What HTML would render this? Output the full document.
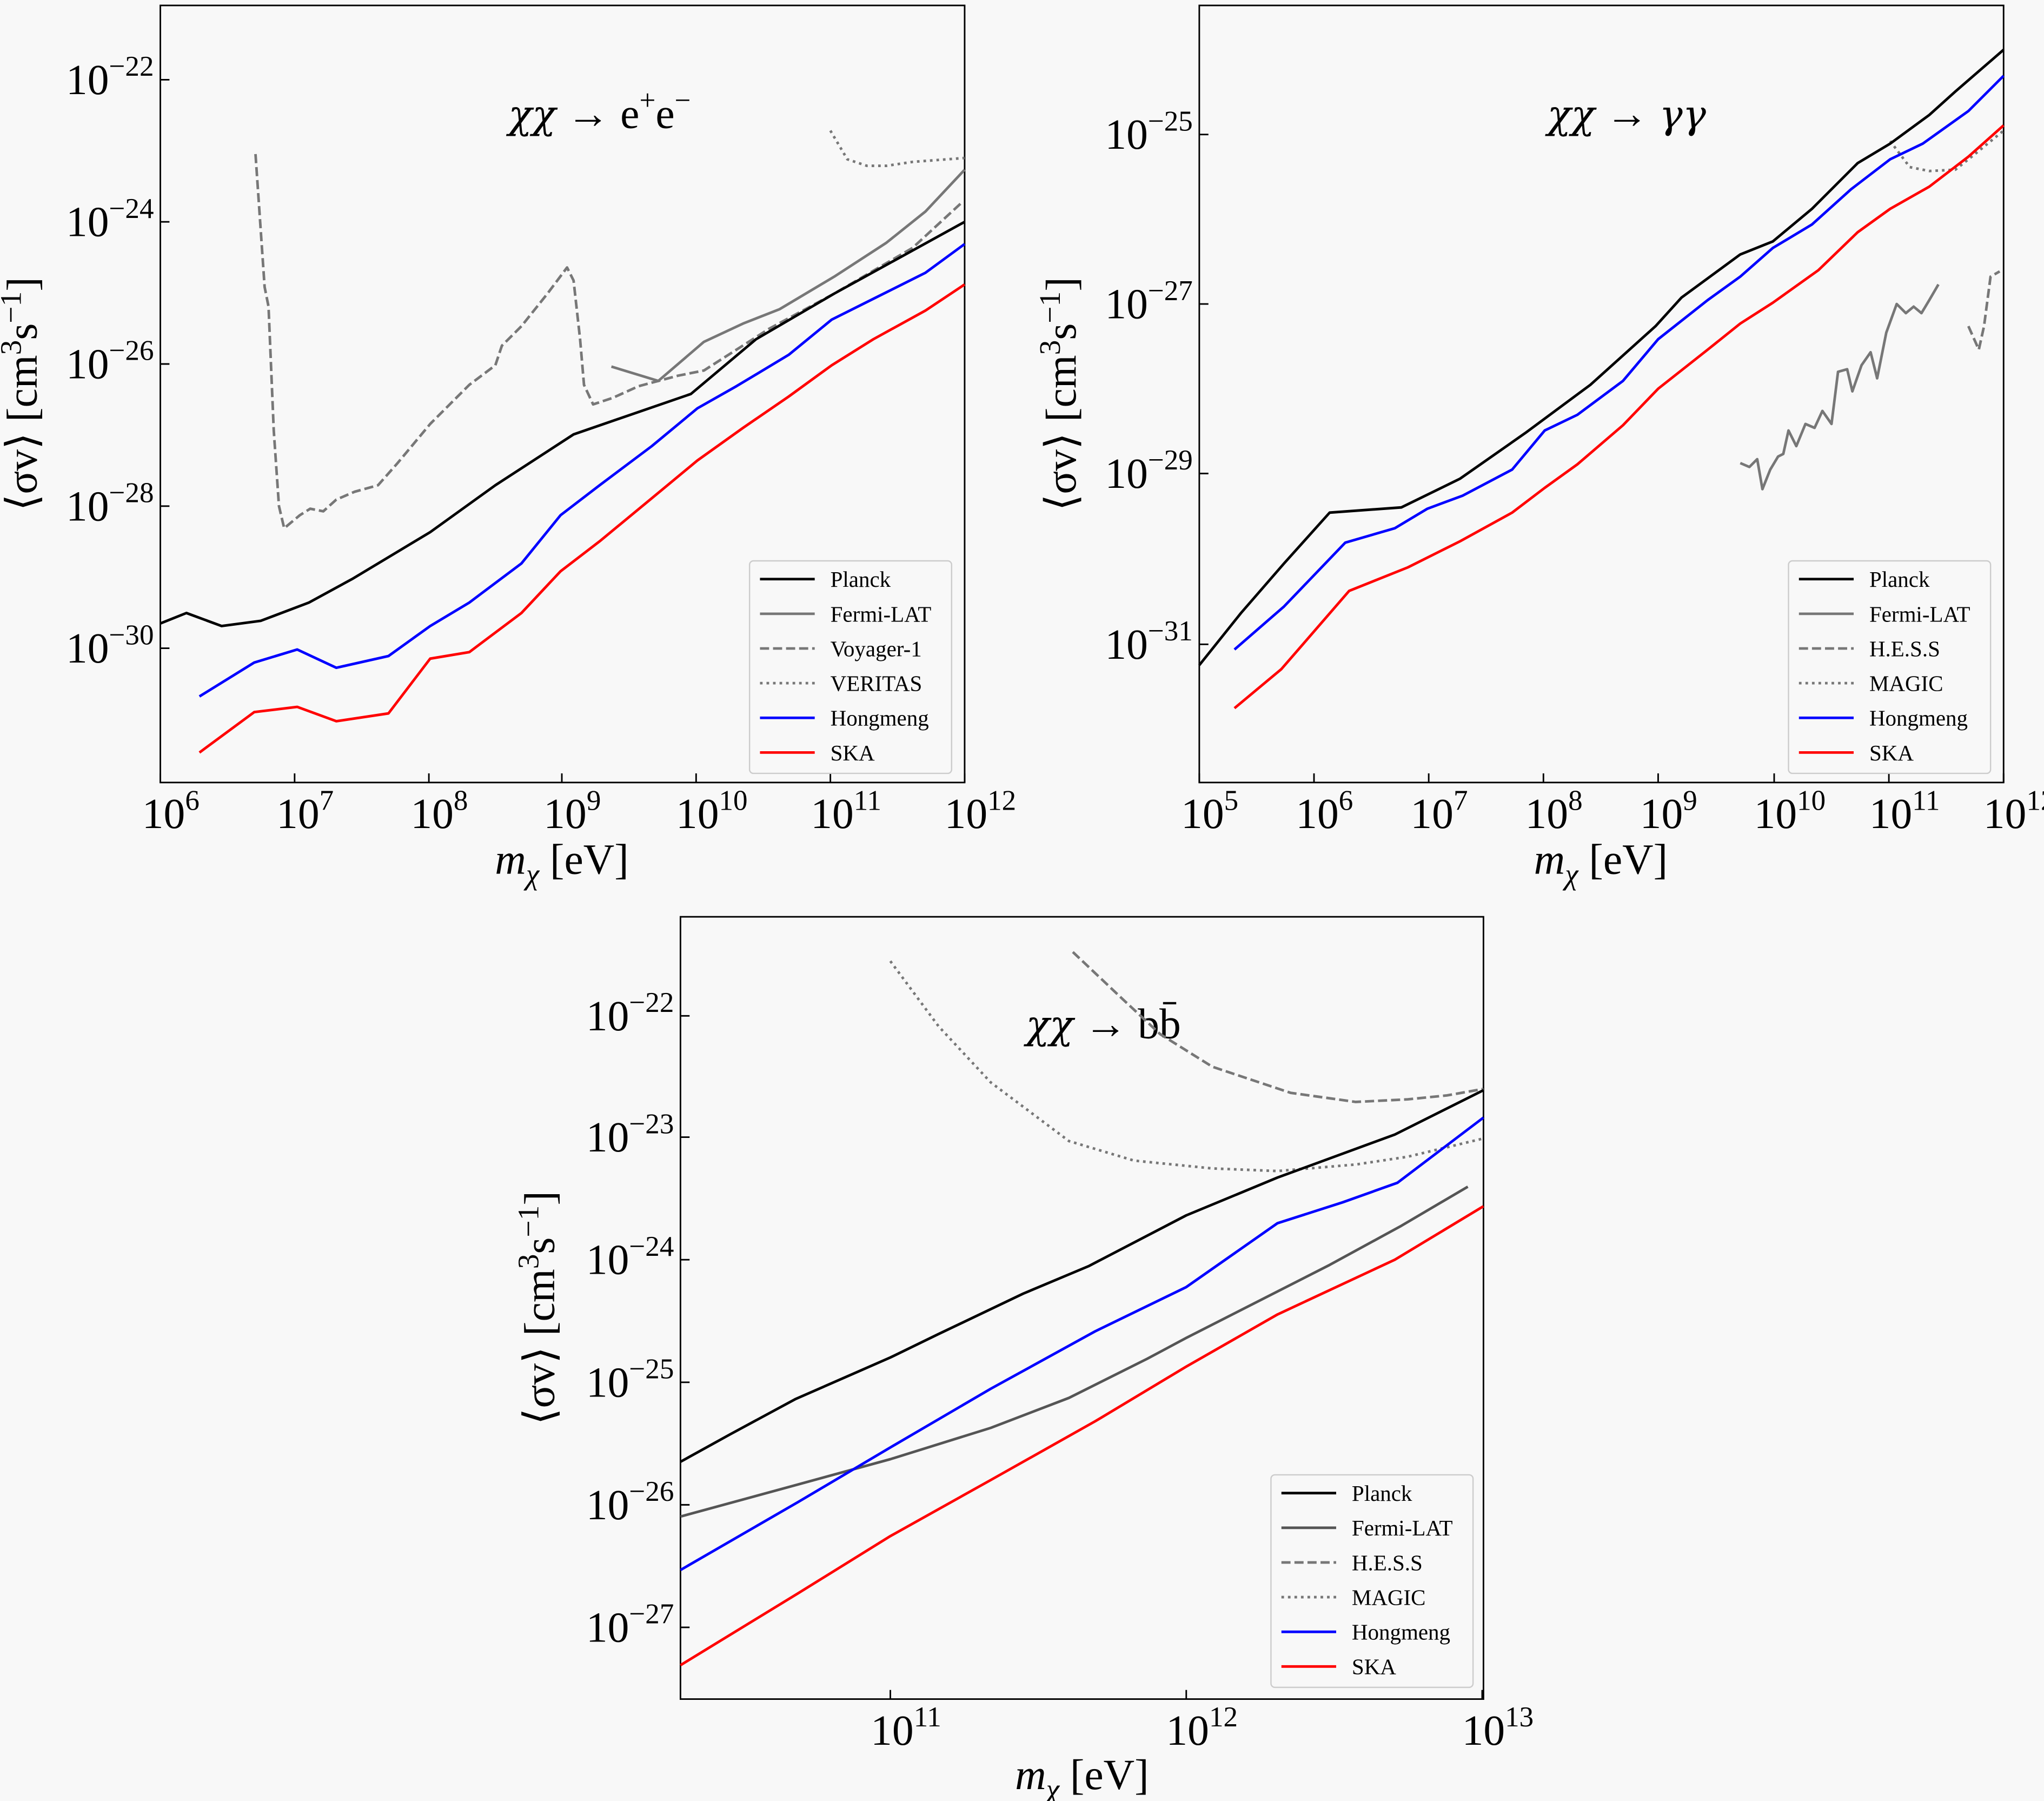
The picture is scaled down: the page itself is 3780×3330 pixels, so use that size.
<!DOCTYPE html>
<html><head><meta charset="utf-8"><style>
html,body{margin:0;padding:0;background:#f8f8f8;}
svg{display:block;}
text{font-family:"Liberation Serif","DejaVu Serif",serif;fill:#000;}
</style></head><body>
<svg id="s" xmlns="http://www.w3.org/2000/svg" width="3780" height="3330" viewBox="0 0 1568 1381">
<rect x="0" y="0" width="1568" height="1381" fill="#f8f8f8"/>
</svg>
<script>
const S=document.getElementById('s');const NS='http://www.w3.org/2000/svg';
function el(t,a,txt){const e=document.createElementNS(NS,t);for(const k in a)e.setAttribute(k,a[k]);if(txt!==undefined)e.textContent=txt;S.appendChild(e);return e;}
function line(pts,col,w,dash){el('polyline',{points:pts.map(p=>p.join(',')).join(' '),fill:'none',stroke:col,'stroke-width':w,'stroke-dasharray':dash||'none','stroke-linejoin':'round'});}
function pow(x,y,base,exp,anchor){const t=el('text',{x:x,y:y,'font-size':33,'text-anchor':anchor});
 const a=document.createElementNS(NS,'tspan');a.textContent=base;t.appendChild(a);
 const b=document.createElementNS(NS,'tspan');b.setAttribute('dy','-14');b.setAttribute('font-size','22');b.textContent=exp;t.appendChild(b);}
function frame(x0,y0,x1,y1){el('rect',{x:x0,y:y0,width:x1-x0,height:y1-y0,fill:'none',stroke:'#000','stroke-width':1.2});}
function yt(x0,ys){ys.forEach(([y,e])=>{el('line',{x1:x0,y1:y,x2:x0+7,y2:y,stroke:'#000','stroke-width':1.2});pow(x0-5,y+11,'10',e,'end');});}
function xt(y1,xs){xs.forEach(([x,e])=>{el('line',{x1:x,y1:y1,x2:x,y2:y1-7,stroke:'#000','stroke-width':1.2});pow(x+(e.length>1?12:8),y1+35,'10',e,'middle');});}
function xlab(x,y){const t=el('text',{x:x,y:y,'font-size':33,'text-anchor':'middle'});t.innerHTML='<tspan font-style="italic">m</tspan><tspan font-style="italic" font-size="23" dy="8">χ</tspan><tspan dy="-8"> [eV]</tspan>';}
function ylab(x,y){const t=el('text',{x:0,y:0,'font-size':33,'text-anchor':'middle',transform:`translate(${x},${y}) rotate(-90)`});t.innerHTML='⟨σv⟩ [cm<tspan font-size="23" dy="-12">3</tspan><tspan dy="12">s</tspan><tspan font-size="23" dy="-12">−1</tspan><tspan dy="12">]</tspan>';}
function title(x,y,rest){const t=el('text',{x:x,y:y,'font-size':33});t.innerHTML='<tspan font-style="italic" font-family="DejaVu Serif" font-size="30">χχ</tspan><tspan> → '+rest+'</tspan>';}
function legend(x,y,items){el('rect',{x:x,y:y,width:155,height:163,fill:'#f8f8f8',stroke:'#ccc','stroke-width':1,rx:3});
 items.forEach((it,i)=>{const yy=y+14+i*26.6;line([[x+8,yy],[x+50,yy]],it[1],2,it[2]);el('text',{x:x+62,y:yy+6,'font-size':17},it[0]);});}
const BK='#000',GR='#777',BL='#0000ff',RD='#ff0000',DS='7,3',DT='2,3';
// Panel 1
frame(123,4,740,600);
yt(123,[[61,'−22'],[170,'−24'],[279,'−26'],[388,'−28'],[497,'−30']]);
xt(600,[[123,'6'],[226,'7'],[329,'8'],[431,'9'],[534,'10'],[637,'11'],[740,'12']]);
xlab(431,670);ylab(28,302);
title(390,98,'e<tspan font-size="22" dy="-14">+</tspan><tspan dy="14">e</tspan><tspan font-size="22" dy="-14">−</tspan>');
line([[196,118],[203,220],[206,235],[210,330],[214,388],[218,405],[230,395],[238,390],[248,392],[258,383],[272,377],[290,372],[305,355],[330,325],[360,295],[380,280],[385,265],[400,250],[420,225],[435,205],[440,215],[445,260],[448,295],[455,310],[470,305],[490,296],[520,288],[540,284],[590,252],[640,225],[700,190],[738,155]],GR,2,DS);
line([[637,100],[650,122],[665,127],[680,127],[700,124],[740,121]],GR,2,DT);
line([[469,281],[505,292],[540,262],[570,248],[598,237],[640,212],[680,186],[710,162],[740,130]],GR,2);
line([[123,478],[143,470],[170,480],[200,476],[237,462],[270,444],[330,408],[380,372],[440,333],[530,302],[580,260],[640,225],[740,170]],BK,2);
line([[153,534],[195,508],[228,498],[258,512],[298,503],[330,480],[360,462],[400,432],[430,395],[460,372],[500,342],[535,313],[565,296],[605,272],[638,245],[670,229],[710,209],[740,187]],BL,2);
line([[153,577],[195,546],[228,542],[258,553],[298,547],[330,505],[360,500],[400,470],[430,438],[460,415],[500,382],[535,353],[570,328],[605,304],[638,280],[670,260],[710,238],[740,218]],RD,2);
legend(575,430,[['Planck',BK],['Fermi-LAT',GR],['Voyager-1',GR,DS],['VERITAS',GR,DT],['Hongmeng',BL],['SKA',RD]]);
// Panel 2
frame(920,4,1537,600);
yt(920,[[103,'−25'],[233,'−27'],[363,'−29'],[494,'−31']]);
xt(600,[[920,'5'],[1008,'6'],[1096,'7'],[1184,'8'],[1272,'9'],[1361,'10'],[1449,'11'],[1537,'12']]);
xlab(1228,670);ylab(825,302);
title(1187,98,'<tspan font-style="italic" font-family="DejaVu Serif" font-size="30">γγ</tspan>');
line([[1335,355],[1342,358],[1348,352],[1352,375],[1358,360],[1364,350],[1368,348],[1372,330],[1378,342],[1385,325],[1392,328],[1398,315],[1405,325],[1410,285],[1417,283],[1421,300],[1428,280],[1435,270],[1440,290],[1447,255],[1455,233],[1462,240],[1468,235],[1474,240],[1480,230],[1487,218]],GR,2);
line([[1510,250],[1518,268],[1522,250],[1527,212],[1534,208]],GR,2,DS);
line([[1450,108],[1465,128],[1480,131],[1500,130],[1515,118],[1537,100]],GR,2,DT);
line([[920,510],[952,470],[985,432],[1020,393],[1075,389],[1120,367],[1170,332],[1220,295],[1270,250],[1290,228],[1335,195],[1360,185],[1390,160],[1425,125],[1450,110],[1480,88],[1500,70],[1537,38]],BK,2);
line([[947,498],[985,465],[1032,416],[1070,405],[1095,390],[1122,380],[1160,360],[1185,330],[1210,318],[1245,292],[1272,260],[1310,230],[1335,212],[1360,190],[1390,172],[1420,145],[1450,122],[1475,110],[1510,85],[1537,58]],BL,2);
line([[947,543],[983,513],[1035,453],[1080,435],[1120,415],[1160,393],[1185,374],[1210,356],[1245,326],[1272,298],[1310,268],[1335,248],[1360,232],[1395,207],[1425,178],[1450,160],[1480,143],[1510,120],[1537,96]],RD,2);
legend(1372,430,[['Planck',BK],['Fermi-LAT',GR],['H.E.S.S',GR,DS],['MAGIC',GR,DT],['Hongmeng',BL],['SKA',RD]]);
// Panel 3
frame(522,703,1138,1303);
yt(522,[[779,'−22'],[872,'−23'],[966,'−24'],[1060,'−25'],[1154,'−26'],[1248,'−27']]);
xt(1303,[[683,'11'],[910,'12'],[1137,'13']]);
xlab(830,1372);ylab(425,1003);
title(787,796,'bb̄');
line([[823,730],[860,765],[890,793],[930,818],[990,838],[1040,845],[1080,843],[1110,840],[1138,835]],GR,2,DS);
line([[683,737],[720,787],[760,830],[820,875],[870,890],[930,896],[980,898],[1040,893],[1080,887],[1138,873]],GR,2,DT);
line([[522,1163],[610,1139],[683,1119],[760,1095],[820,1072],[880,1042],[910,1026],[1020,970],[1075,940],[1126,910]],'#555',2);
line([[522,1121],[560,1100],[610,1073],[683,1041],[720,1023],[785,992],[835,971],[910,932],[980,903],[1070,870],[1138,836]],BK,2);
line([[522,1204],[612,1152],[683,1110],[760,1065],[840,1021],[910,987],[980,938],[1030,922],[1072,907],[1138,857]],BL,2);
line([[522,1277],[612,1222],[683,1178],[760,1135],[840,1090],[910,1048],[980,1008],[1070,966],[1138,925]],RD,2);
legend(975,1131,[['Planck',BK],['Fermi-LAT','#555'],['H.E.S.S',GR,DS],['MAGIC',GR,DT],['Hongmeng',BL],['SKA',RD]]);
</script>
</body></html>
